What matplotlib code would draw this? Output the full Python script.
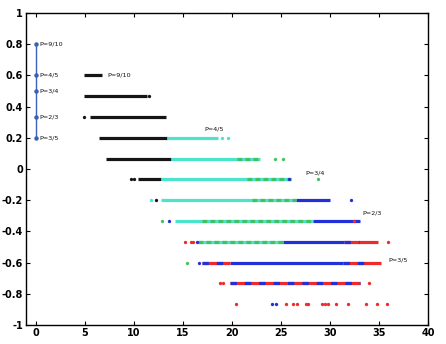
import matplotlib
matplotlib.use("Agg")
import matplotlib.pyplot as plt

# ---- data ----
# vertical reference line at x=0 (values 2P-1)
ref_y = [0.8, 0.6, 0.5, 0.3333, 0.2]
ref_labels = ["P=9/10", "P=4/5", "P=3/4", "P=2/3", "P=3/5"]

# dense runs of points: row y, run start, run end
black_y = [0.6, 0.4667, 0.3333, 0.2, 0.0667, -0.0667]
black_x0 = [4.9, 4.9, 5.5, 6.5, 7.2, 10.4]
black_x1 = [6.8, 11.3, 13.3, 13.4, 13.8, 12.8]

cyan_y = [0.2, 0.0667, -0.0667, -0.2, -0.3333, -0.4667]
cyan_x0 = [13.4, 13.8, 12.8, 12.8, 14.2, 16.5]
cyan_x1 = [18.6, 22.9, 26.0, 26.5, 28.3, 25.2]

green_y = [0.0667, -0.0667, -0.2, -0.3333, -0.4667]
green_x0 = [20.5, 21.5, 22.0, 17.0, 16.5]
green_x1 = [22.9, 26.0, 26.5, 28.3, 25.2]

blue_y = [-0.2, -0.3333, -0.4667, -0.6]
blue_x0 = [26.5, 28.3, 25.2, 19.8]
blue_x1 = [30.0, 33.1, 31.4, 31.3]

red_y = [-0.4667, -0.6, -0.6, -0.7333]
red_x0 = [31.4, 17.0, 31.3, 19.8]
red_x1 = [34.9, 19.8, 35.2, 33.1]

# runs where a second colour is mixed in
mix_y = [-0.6, -0.6, -0.7333, -0.4667]
mix_x0 = [17.0, 31.3, 19.8, 31.4]
mix_x1 = [19.8, 33.5, 33.1, 33.0]
mix_color = ["blue", "blue", "blue", "blue"]

# isolated points
black_px = [11.6, 4.9, 9.7, 10.0, 12.3]
black_py = [0.4667, 0.3333, -0.0667, -0.0667, -0.2]
cyan_px = [19.0, 19.6, 11.8]
cyan_py = [0.2, 0.2, -0.2]
green_px = [24.4, 25.2, 28.8, 12.9, 15.4]
green_py = [0.0667, 0.0667, -0.0667, -0.3333, -0.6]
blue_px = [25.8, 32.1, 13.6, 16.4, 16.6, 24.1, 24.5]
blue_py = [-0.0667, -0.2, -0.3333, -0.4667, -0.6, -0.8667, -0.8667]
red_px = [32.4, 15.2, 15.8, 16.0, 35.9, 18.8, 19.1, 34.0,
          20.4, 25.5, 26.2, 26.6, 27.5, 27.8, 29.2, 29.5, 29.8, 30.6, 31.8, 33.7, 34.8, 35.8]
red_py = [-0.3333, -0.4667, -0.4667, -0.4667, -0.4667, -0.7333, -0.7333, -0.7333,
          -0.8667, -0.8667, -0.8667, -0.8667, -0.8667, -0.8667, -0.8667, -0.8667,
          -0.8667, -0.8667, -0.8667, -0.8667, -0.8667, -0.8667]

# curve labels
lab_text = ["P=9/10", "P=4/5", "P=3/4", "P=2/3", "P=3/5"]
lab_x = [7.3, 17.2, 27.5, 33.3, 35.9]
lab_y = [0.6, 0.26, -0.025, -0.28, -0.58]

x_ticks = [0, 5, 10, 15, 20, 25, 30, 35, 40]
y_ticks = [-1, -0.8, -0.6, -0.4, -0.2, 0, 0.2, 0.4, 0.6, 0.8, 1]
y_ticklabels = ["-1", "-0.8", "-0.6", "-0.4", "-0.2", "0", "0.2", "0.4", "0.6", "0.8", "1"]

colors = {
    "black": "#151515",
    "cyan": "#4ae4cc",
    "green": "#45c060",
    "blue": "#2230d8",
    "red": "#ee2a2a",
}

fig = plt.figure(figsize=(4.46, 3.44), dpi=100)
ax = fig.add_axes([0.058, 0.055, 0.902, 0.907])

LW = 2.3
def runs(ys, x0s, x1s, c, ls="-", lw=LW, z=2):
    ax.hlines(ys, x0s, x1s, colors=colors[c], linewidth=lw, linestyles=ls, zorder=z)

runs(black_y, black_x0, black_x1, "black")
runs(cyan_y, cyan_x0, cyan_x1, "cyan")
ax.hlines(green_y, green_x0, green_x1, colors=colors["green"], linewidth=LW,
          linestyles=(0, (1.5, 1.0)), zorder=3)
runs(blue_y, blue_x0, blue_x1, "blue")
runs(red_y, red_x0, red_x1, "red")
for y, a, b, c in zip(mix_y, mix_x0, mix_x1, mix_color):
    ax.hlines([y], [a], [b], colors=colors[c], linewidth=LW,
              linestyles=(0, (2, 2.5)), zorder=4)

ms = 2.4
for px, py, c in [(black_px, black_py, "black"), (cyan_px, cyan_py, "cyan"),
                  (green_px, green_py, "green"), (blue_px, blue_py, "blue"),
                  (red_px, red_py, "red")]:
    ax.plot(px, py, "o", ms=ms, color=colors[c], mec="none", zorder=5)

# reference line at x = 0
ax.plot([0] * len(ref_y), ref_y, "-", color="#3a5fb8", lw=1.0, zorder=4)
ax.plot([0] * len(ref_y), ref_y, "o", color="#3a5fb8", ms=2.2, zorder=5)
for y, t in zip(ref_y, ref_labels):
    ax.text(0.35, y, t, fontsize=4.6, va="center", ha="left", color="#111111")

for t, x, y in zip(lab_text, lab_x, lab_y):
    ax.text(x, y, t, fontsize=4.6, va="center", ha="left", color="#111111")

ax.set_xlim(-1, 40)
ax.set_ylim(-1, 1)
ax.set_xticks(x_ticks)
ax.set_xticklabels([str(v) for v in x_ticks], fontsize=7, fontweight="bold")
ax.set_yticks(y_ticks)
ax.set_yticklabels(y_ticklabels, fontsize=7, fontweight="bold")
ax.tick_params(direction="in", top=True, right=True, length=3, width=0.8, pad=2)
for s in ax.spines.values():
    s.set_linewidth(1.0)

fig.savefig("out.png", dpi=100)
